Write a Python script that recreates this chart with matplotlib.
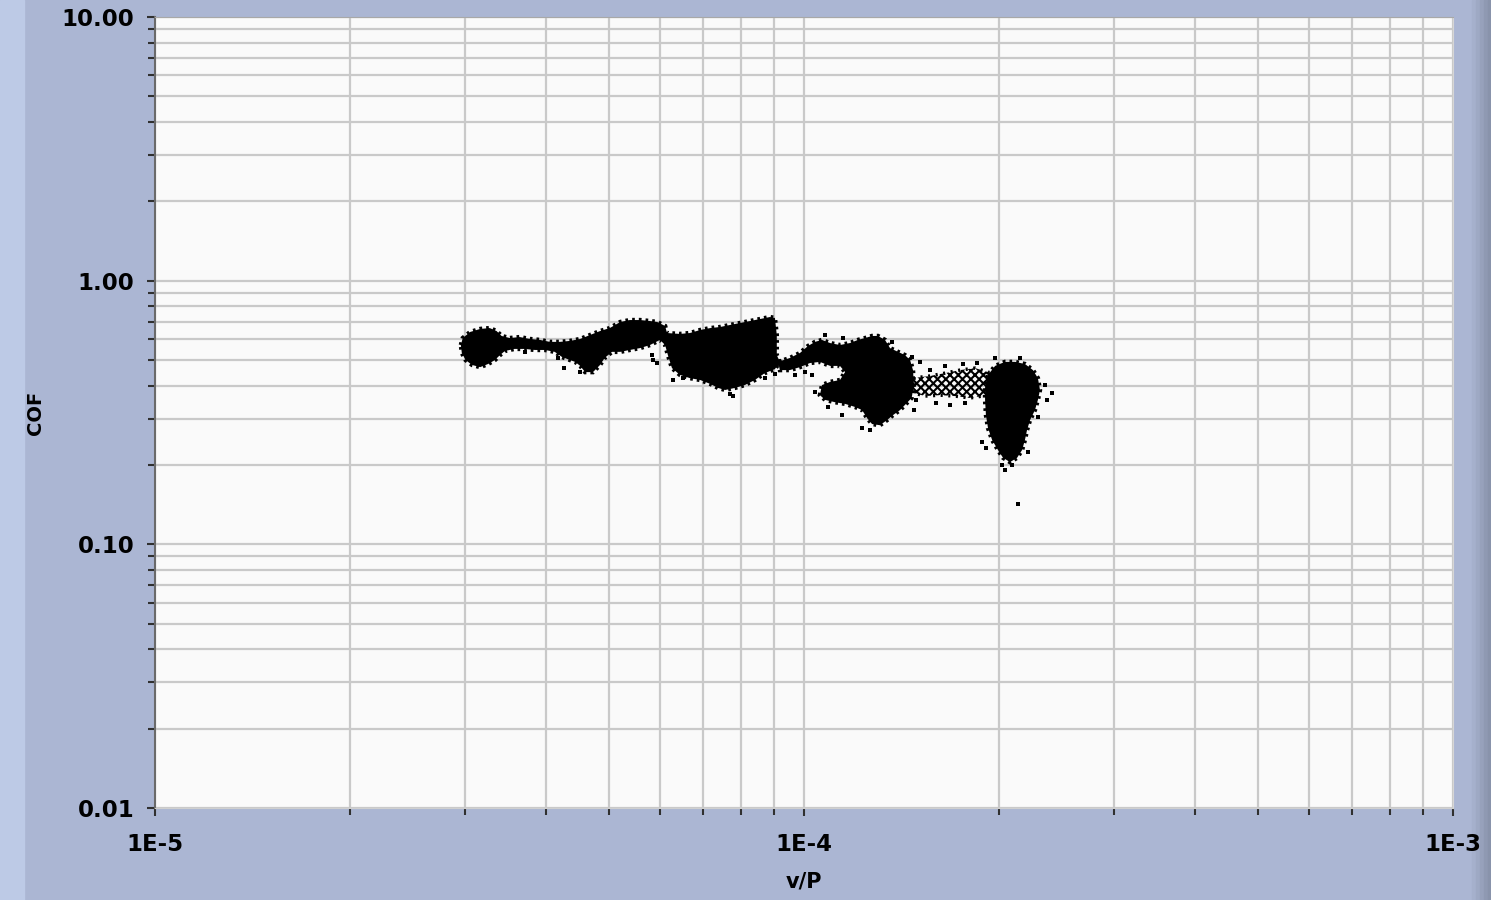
import matplotlib
matplotlib.use("Agg")
import matplotlib.pyplot as plt
from matplotlib.patches import Polygon, Rectangle

# ---- friction map: v/P vs COF (log-log) ----
# dense clouds are stored as outlines (v/P, COF), stray samples as points

chain_vp = [2.96e-5, 2.98e-5, 3.06e-5, 3.17e-5, 3.28e-5, 3.36e-5, 3.42e-5, 3.52e-5, 3.65e-5, 3.78e-5,
            3.92e-5, 4.06e-5, 4.21e-5, 4.36e-5, 4.52e-5, 4.68e-5, 4.85e-5, 5.02e-5, 5.21e-5, 5.39e-5,
            5.59e-5, 5.79e-5, 5.94e-5, 6.11e-5, 6.15e-5, 6.44e-5, 6.67e-5, 6.92e-5, 7.17e-5, 7.42e-5,
            7.69e-5, 7.97e-5, 8.26e-5, 8.55e-5, 8.86e-5, 9.02e-5, 9.08e-5, 9.08e-5, 9.18e-5,
            9.02e-5, 8.70e-5, 8.40e-5, 8.11e-5, 7.83e-5, 7.56e-5, 7.37e-5, 7.17e-5, 6.92e-5, 6.67e-5,
            6.44e-5, 6.26e-5, 6.17e-5, 6.11e-5, 6.00e-5, 5.79e-5, 5.59e-5, 5.39e-5, 5.21e-5, 5.06e-5,
            4.93e-5, 4.85e-5, 4.73e-5, 4.60e-5, 4.52e-5, 4.44e-5, 4.36e-5, 4.24e-5, 4.13e-5, 3.99e-5,
            3.85e-5, 3.71e-5, 3.58e-5, 3.46e-5, 3.40e-5, 3.34e-5, 3.26e-5, 3.17e-5, 3.08e-5, 3.01e-5,
            2.97e-5]
chain_cof = [0.570, 0.606, 0.639, 0.656, 0.661, 0.644, 0.617, 0.606, 0.611, 0.601,
             0.596, 0.586, 0.586, 0.591, 0.601, 0.622, 0.644, 0.661, 0.697, 0.709,
             0.709, 0.703, 0.697, 0.673, 0.633, 0.628, 0.633, 0.650, 0.661, 0.667,
             0.679, 0.691, 0.703, 0.715, 0.728, 0.722, 0.622, 0.522, 0.492,
             0.462, 0.446, 0.420, 0.402, 0.392, 0.385, 0.392, 0.406, 0.420, 0.427,
             0.439, 0.466, 0.522, 0.570, 0.596, 0.570, 0.555, 0.546, 0.537, 0.537,
             0.509, 0.479, 0.450, 0.450, 0.475, 0.492, 0.500, 0.513, 0.537, 0.546,
             0.546, 0.551, 0.551, 0.541, 0.522, 0.500, 0.483, 0.470, 0.479, 0.500,
             0.532]

blob3_vp = [9.12e-5, 9.51e-5, 9.86e-5, 1.014e-4, 1.040e-4, 1.066e-4, 1.097e-4, 1.136e-4, 1.177e-4, 1.211e-4,
            1.242e-4, 1.273e-4, 1.300e-4, 1.333e-4, 1.357e-4, 1.396e-4, 1.431e-4, 1.457e-4, 1.472e-4, 1.477e-4,
            1.465e-4, 1.431e-4, 1.406e-4, 1.371e-4, 1.343e-4, 1.309e-4, 1.273e-4, 1.251e-4, 1.229e-4, 1.198e-4,
            1.157e-4, 1.116e-4, 1.078e-4, 1.058e-4, 1.066e-4, 1.097e-4, 1.136e-4, 1.157e-4, 1.136e-4, 1.097e-4,
            1.058e-4, 1.021e-4, 9.86e-5, 9.51e-5, 9.18e-5]
blob3_cof = [0.492, 0.509, 0.532, 0.565, 0.586, 0.596, 0.580, 0.570, 0.580, 0.596,
             0.606, 0.617, 0.617, 0.596, 0.555, 0.537, 0.522, 0.500, 0.458, 0.402,
             0.359, 0.338, 0.323, 0.309, 0.296, 0.283, 0.286, 0.301, 0.323, 0.332,
             0.341, 0.346, 0.353, 0.368, 0.402, 0.413, 0.420, 0.450, 0.475, 0.475,
             0.492, 0.487, 0.470, 0.458, 0.458]

trail_vp = [1.472e-4, 1.564e-4, 1.650e-4, 1.740e-4, 1.835e-4, 1.921e-4,
            1.921e-4, 1.803e-4, 1.709e-4, 1.621e-4, 1.536e-4, 1.472e-4]
trail_cof = [0.427, 0.435, 0.446, 0.458, 0.466, 0.450,
             0.368, 0.359, 0.365, 0.368, 0.365, 0.376]

blob4_vp = [1.921e-4, 1.970e-4, 2.040e-4, 2.114e-4, 2.190e-4, 2.253e-4, 2.293e-4, 2.310e-4, 2.293e-4, 2.269e-4,
            2.230e-4, 2.206e-4, 2.190e-4, 2.168e-4, 2.130e-4, 2.077e-4, 2.026e-4, 1.990e-4, 1.949e-4, 1.921e-4,
            1.907e-4, 1.901e-4, 1.901e-4]
blob4_cof = [0.439, 0.475, 0.492, 0.492, 0.483, 0.458, 0.427, 0.385, 0.353, 0.323,
             0.296, 0.271, 0.249, 0.228, 0.213, 0.205, 0.213, 0.228, 0.249, 0.276,
             0.309, 0.353, 0.392]

stray_vp = [3.36e-5, 3.71e-5, 4.18e-5, 4.27e-5, 4.52e-5, 5.83e-5, 5.85e-5, 5.94e-5, 6.29e-5, 6.51e-5,
            7.69e-5, 7.77e-5, 8.70e-5, 9.02e-5,
            1.078e-4, 1.148e-4, 1.366e-4, 1.465e-4, 1.509e-4, 1.040e-4, 1.089e-4, 1.144e-4, 1.480e-4, 1.490e-4,
            1.264e-4, 1.229e-4, 1.004e-4, 9.68e-5, 1.029e-4,
            1.600e-4, 1.770e-4, 1.850e-4, 1.760e-4, 1.679e-4, 1.564e-4, 1.650e-4,
            2.410e-4, 2.370e-4, 2.351e-4, 2.290e-4, 2.214e-4, 2.090e-4, 2.020e-4, 1.910e-4, 1.880e-4, 2.137e-4,
            2.040e-4, 2.152e-4, 1.970e-4]
stray_cof = [0.537, 0.537, 0.509, 0.466, 0.450, 0.522, 0.500, 0.487, 0.420, 0.427,
             0.372, 0.365, 0.427, 0.442,
             0.622, 0.606, 0.585, 0.513, 0.492, 0.379, 0.331, 0.309, 0.323, 0.353,
             0.271, 0.276, 0.450, 0.439, 0.439,
             0.343, 0.343, 0.487, 0.483, 0.338, 0.458, 0.475,
             0.376, 0.353, 0.402, 0.304, 0.223, 0.200, 0.200, 0.232, 0.244, 0.142,
             0.191, 0.509, 0.509]

x_ticks = [1e-5, 1e-4, 1e-3]
x_labels = ["1E-5", "1E-4", "1E-3"]
y_ticks = [0.01, 0.1, 1.0, 10.0]
y_labels = ["0.01", "0.10", "1.00", "10.00"]

W, H = 1491, 900
PANEL = "#abb6d3"

fig = plt.figure(figsize=(W / 100, H / 100), dpi=100, facecolor=PANEL)

# panel frame: light strip on the left, darker shading on the right edge
fig.patches.append(Rectangle((0, 0), 24 / W, 1, transform=fig.transFigure,
                             color="#bdcae6", zorder=-1))
for i, c in enumerate(["#a5b0cc", "#9ea9c4", "#97a1bb", "#8f99b2", "#8993ab"]):
    fig.patches.append(Rectangle(((1472 + i * 4) / W, 0), 4 / W if i < 4 else 3 / W, 1,
                                 transform=fig.transFigure, color=c, zorder=-1))

ax = fig.add_axes([155 / W, (H - 808) / H, 1298 / W, 791 / H])
ax.set_facecolor("#fafafa")
ax.set_xscale("log")
ax.set_yscale("log")
ax.set_xlim(1e-5, 1e-3)
ax.set_ylim(0.01, 10)

ax.grid(which="both", color="#c9c9c9", lw=1.6)
ax.set_axisbelow(True)

# dense clouds: solid fill, dotted rim for the ragged edge of the point cloud
for vp, cof in [(chain_vp, chain_cof), (blob3_vp, blob3_cof), (blob4_vp, blob4_cof)]:
    ax.add_patch(Polygon(list(zip(vp, cof)), closed=True, facecolor="black",
                         edgecolor="none", zorder=3))
    ax.add_patch(Polygon(list(zip(vp, cof)), closed=True, facecolor="none",
                         edgecolor="black", lw=3.2, ls=(0, (0.6, 0.9)),
                         joinstyle="miter", zorder=3))

# sparse band between the last two clusters
plt.rcParams["hatch.linewidth"] = 1.5
ax.add_patch(Polygon(list(zip(trail_vp, trail_cof)), closed=True, facecolor="none",
                     edgecolor="black", hatch="xxxx", lw=0, zorder=3))
ax.add_patch(Polygon(list(zip(trail_vp, trail_cof)), closed=True, facecolor="none",
                     edgecolor="black", lw=2.5, ls=(0, (0.6, 1.6)), zorder=3))

ax.scatter(stray_vp, stray_cof, s=5, marker="s", color="black", lw=0, zorder=3)

ax.set_xticks(x_ticks)
ax.set_xticklabels(x_labels)
ax.set_yticks(y_ticks)
ax.set_yticklabels(y_labels)
ax.tick_params(which="major", length=6, width=1.5, color="#303030", labelsize=16.5)
ax.tick_params(axis="y", which="major", pad=9)
ax.tick_params(axis="x", which="major", pad=12)
ax.tick_params(which="minor", length=5, width=1.5, color="#303030")
ax.tick_params(axis="x", which="minor", labelbottom=False)
ax.tick_params(axis="y", which="minor", labelleft=False)
for lab in ax.get_xticklabels() + ax.get_yticklabels():
    lab.set_fontweight("bold")

ax.spines["left"].set_color("#6a6a6a")
ax.spines["left"].set_linewidth(1.5)
ax.spines["bottom"].set_color("#cfcfcf")
ax.spines["top"].set_color("#a8a8a8")
ax.spines["right"].set_color("#d6d6d6")

ax.set_xlabel("v/P", fontsize=15, fontweight="bold", labelpad=11)
ax.set_ylabel("COF", fontsize=14, fontweight="bold", labelpad=12)

fig.savefig("out.png", dpi=100, facecolor=fig.get_facecolor())
